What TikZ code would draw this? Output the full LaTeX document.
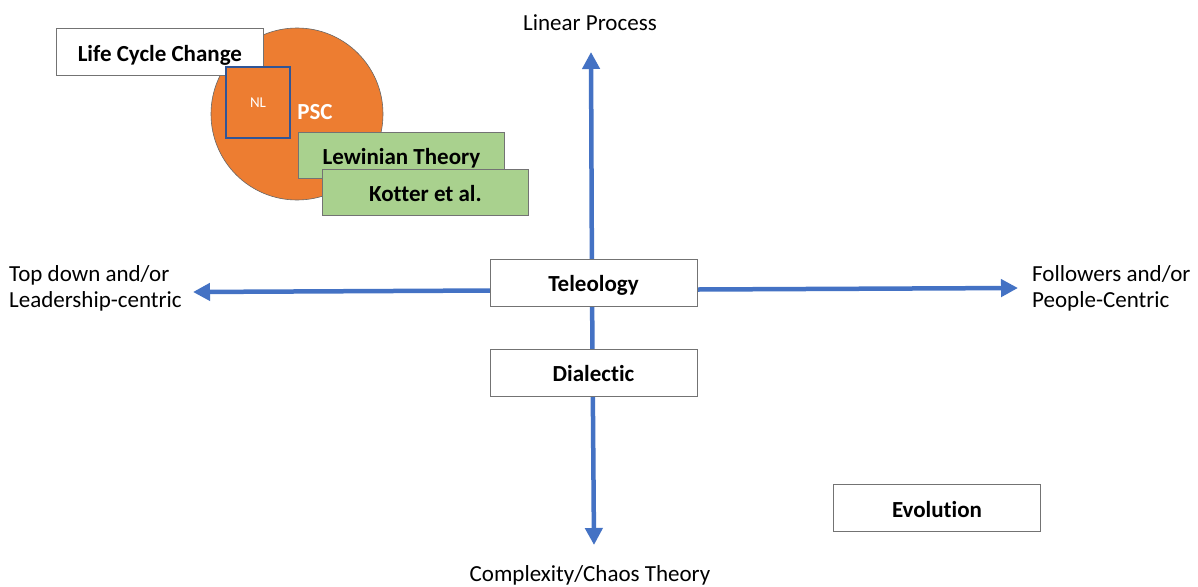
\documentclass[tikz,border=0pt]{standalone}
\usepackage{fontspec}
\setmainfont{Carlito}[Ligatures=NoCommon]
\usetikzlibrary{arrows.meta}
\definecolor{axisblue}{HTML}{4472C4}
\definecolor{pscorange}{HTML}{ED7D31}
\definecolor{boxgreen}{HTML}{A9D18E}
\definecolor{nlblue}{HTML}{2F5597}
\begin{document}
\begin{tikzpicture}[x=1pt,y=-1pt,
  axis/.style={draw=axisblue,line width=4.5pt,-{Triangle[length=17pt,width=17pt]}},
  boxtext/.style={font=\fontsize{23}{26}\selectfont\bfseries,text height=21pt,text depth=2.5pt},
  whitebox/.style={boxtext,draw=black!55,fill=white,line width=0.8pt,minimum width=207pt,minimum height=47pt},
  greenbox/.style={boxtext,draw=black!55,fill=boxgreen,line width=0.8pt,minimum width=206pt,minimum height=46pt},
  axlabel/.style={font=\fontsize{23}{26}\selectfont,align=left,inner sep=0pt}]
\useasboundingbox (0,0) rectangle (1198,586);
\fill[white] (0,0) rectangle (1198,586);

% axis end points
\coordinate (top) at (591,52);
\coordinate (bottom) at (594,545);
\coordinate (left) at (193,292);
\coordinate (right) at (1018,288);
\coordinate (centre) at (592,290);

\draw[axis] (centre) -- (top);
\draw[axis] (centre) -- (bottom);
\draw[axis] (centre) -- (left);
\draw[axis] (centre) -- (right);

\node[whitebox] (teleology) at (593.5,282.5) {Teleology};
\node[whitebox] (dialectic) at (593.5,372.5) {Dialectic};
\node[whitebox] (evolution) at (937,508) {Evolution};

% axis labels
\node[axlabel] (linear) at (590,23) {Linear Process};
\node[axlabel] (chaos) at (590,575) {Complexity/Chaos Theory};
\node[axlabel,anchor=west] (topdown) at (9,288) {Top down and/or\\Leadership-centric};
\node[axlabel,anchor=west] (followers) at (1032,288) {Followers and/or\\People-Centric};

% planned change cluster
\node[circle,draw=black!60,line width=0.6pt,fill=pscorange,minimum size=172pt,inner sep=0pt] (psc) at (297,114) {};
\node[whitebox,anchor=north west] (lifecycle) at (56,28) {Life Cycle Change};
\node[draw=nlblue,line width=1.6pt,fill=pscorange,minimum width=64pt,minimum height=71pt,
      text=white,font=\fontsize{15}{17}\selectfont] (nl) at (258,102.5) {NL};
\node[text=white,font=\fontsize{23}{26}\selectfont\bfseries] (psclabel) at (315,112) {PSC};
\node[greenbox,anchor=north west] (lewin) at (298,132) {Lewinian Theory};
\node[greenbox,anchor=north west] (kotter) at (322,169) {Kotter et al.};
\end{tikzpicture}
\end{document}
